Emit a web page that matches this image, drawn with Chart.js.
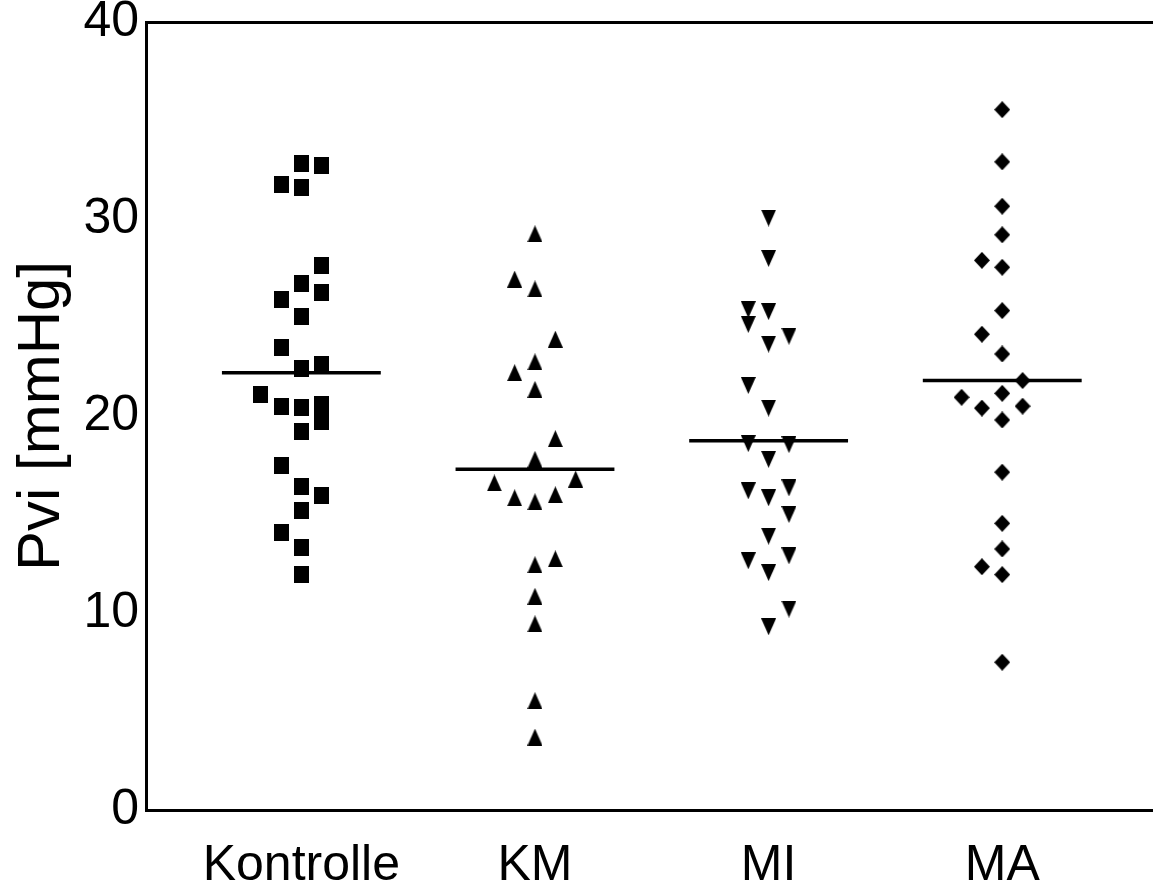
<!DOCTYPE html>
<html>
<head>
<meta charset="utf-8">
<script src="https://cdn.jsdelivr.net/npm/chart.js@4.4.1/dist/chart.umd.min.js"></script>
<style>
  html, body { margin: 0; padding: 0; background: #fff; }
  #wrap { width: 1161px; height: 889px; }
</style>
</head>
<body>
<div id="wrap"><canvas id="pvi"></canvas></div>
<script>
let GROUPS = ["Kontrolle", "KM", "MI", "MA"];
let Y_TICKS = [0, 10, 20, 30, 40];

// values, with the little column shift each point has
let KONTROLLE = [32.8, 32.7, 31.75, 31.6, 27.65, 26.75, 26.25, 25.9, 25.05, 23.5, 22.4, 22.6, 21.1, 20.5, 20.45, 20.6, 19.7, 19.2, 17.5, 16.4, 15.95, 15.2, 14.1, 13.3, 11.95];
let KONTROLLE_COL = [0, 1, -1, 0, 1, 0, 1, -1, 0, -1, 0, 1, -2, -1, 0, 1, 1, 0, -1, 0, 1, 0, -1, 0, 0];
let KM = [29.25, 26.95, 26.45, 23.9, 22.75, 22.2, 21.35, 18.85, 17.8, 16.8, 16.6, 15.85, 15.65, 16.0, 12.45, 12.75, 10.85, 9.45, 5.55, 3.7];
let KM_COL = [0, -1, 0, 1, 0, -1, 0, 1, 0, 2, -2, -1, 0, 1, 0, 1, 0, 0, 0, 0];
let MI = [30.05, 28.0, 25.4, 25.3, 24.65, 24.05, 23.65, 21.55, 20.4, 18.6, 18.55, 17.8, 16.2, 15.85, 16.35, 15.0, 13.9, 12.65, 12.9, 12.05, 10.2, 9.3];
let MI_COL = [0, 0, -1, 0, -1, 1, 0, -1, 0, -1, 1, 0, -1, 0, 1, 1, 0, -1, 1, 0, 1, 0];
let MA = [35.55, 32.9, 30.65, 29.2, 27.9, 27.55, 25.35, 24.15, 23.15, 21.8, 21.15, 20.95, 20.4, 20.5, 19.8, 17.15, 14.55, 13.25, 12.35, 11.95, 7.5];
let MA_COL = [0, 0, 0, 0, -1, 0, 0, -1, 0, 1, 0, -2, -1, 1, 0, 0, 0, 0, -1, 0, 0];
let MEANS = [22.2, 17.3, 18.75, 21.8];

const COL_STEP = 0.087;
const HALF_LINE = 0.34;

function shape(kind, w, h) {
  const c = document.createElement('canvas');
  c.width = w; c.height = h;
  const g = c.getContext('2d');
  g.fillStyle = '#000';
  g.beginPath();
  if (kind === 'square') {
    g.rect(0, 0, w, h);
  } else if (kind === 'up') {
    g.moveTo(w / 2, 0); g.lineTo(w, h); g.lineTo(0, h);
  } else if (kind === 'down') {
    g.moveTo(0, 0); g.lineTo(w, 0); g.lineTo(w / 2, h);
  } else {
    g.moveTo(w / 2, 0); g.lineTo(w, h / 2); g.lineTo(w / 2, h); g.lineTo(0, h / 2);
  }
  g.closePath();
  g.fill();
  return c;
}

function pts(vals, cols, i) {
  return vals.map((v, k) => ({ x: i + cols[k] * COL_STEP, y: v }));
}

const groups = [
  [KONTROLLE, KONTROLLE_COL, shape('square', 15, 17)],
  [KM, KM_COL, shape('up', 15, 17)],
  [MI, MI_COL, shape('down', 15, 17)],
  [MA, MA_COL, shape('diamond', 16, 17)]
];

const datasets = [];
groups.forEach((g, i) => {
  datasets.push({
    type: 'scatter',
    data: pts(g[0], g[1], i),
    pointStyle: g[2],
    pointRadius: 8,
    pointHoverRadius: 8,
    backgroundColor: '#000',
    borderColor: '#000'
  });
  datasets.push({
    type: 'line',
    data: [{ x: i - HALF_LINE, y: MEANS[i] }, { x: i + HALF_LINE, y: MEANS[i] }],
    borderColor: '#000',
    borderWidth: 3.5,
    pointRadius: 0,
    fill: false
  });
});

new Chart(document.getElementById('pvi'), {
  type: 'scatter',
  data: { datasets: datasets },
  options: {
    responsive: true,
    maintainAspectRatio: false,
    animation: false,
    layout: { padding: { top: 22, right: 0, bottom: 0, left: 0 } },
    plugins: { legend: { display: false }, tooltip: { enabled: false } },
    scales: {
      x: {
        type: 'linear',
        min: -0.665,
        max: 3.641,
        grid: { display: false, drawTicks: false },
        border: { display: true, color: '#000', width: 3 },
        afterBuildTicks: (s) => { s.ticks = GROUPS.map((c, i) => ({ value: i })); },
        afterFit: (s) => { s.height = 79; s.paddingLeft = 0; s.paddingRight = 0; },
        ticks: {
          color: '#000',
          padding: 26,
          maxRotation: 0,
          autoSkip: false,
          font: { family: 'Liberation Sans, Arial, sans-serif', size: 50 },
          callback: (v) => GROUPS[v]
        }
      },
      x2: {
        type: 'linear',
        position: 'top',
        min: 0,
        max: 1,
        grid: { display: false, drawTicks: false },
        border: { display: true, color: '#000', width: 3 },
        ticks: { display: false },
        afterFit: (s) => { s.height = 0; s.paddingLeft = 0; s.paddingRight = 0; }
      },
      y: {
        min: 0,
        max: 40,
        grid: { display: false, drawTicks: false },
        border: { display: true, color: '#000', width: 3 },
        afterBuildTicks: (s) => { s.ticks = Y_TICKS.map(v => ({ value: v })); },
        afterFit: (s) => { s.width = 146; s.paddingTop = 0; s.paddingBottom = 0; },
        ticks: {
          color: '#000',
          padding: 7,
          font: { family: 'Liberation Sans, Arial, sans-serif', size: 50 }
        },
        title: {
          display: true,
          text: 'Pvi [mmHg]',
          color: '#000',
          padding: { top: 6, bottom: 0 },
          font: { family: 'Liberation Sans, Arial, sans-serif', size: 60 }
        }
      }
    }
  }
});
</script>
</body>
</html>
